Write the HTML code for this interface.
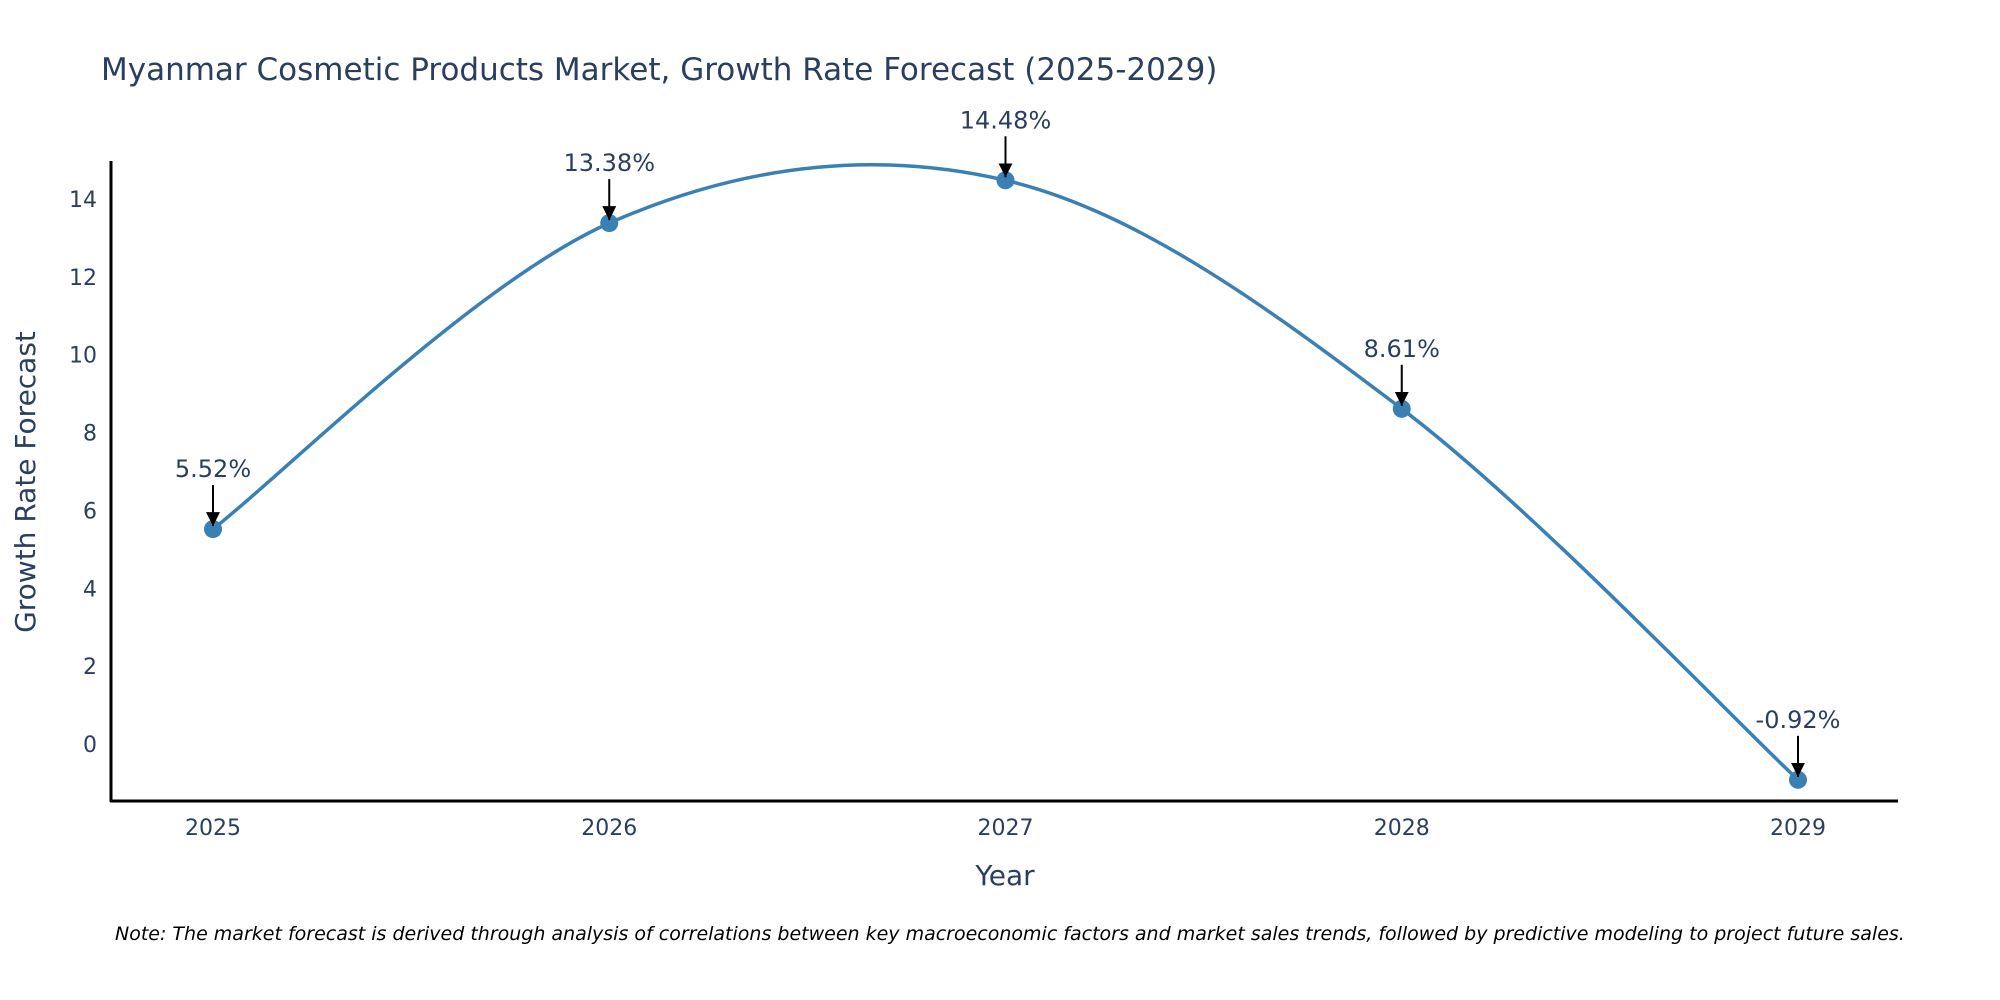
<!DOCTYPE html>
<html><head><meta charset="utf-8"><style>
body{margin:0;background:#fff}
svg{display:block;font-family:"DejaVu Sans","Liberation Sans",sans-serif}
</style></head><body>
<svg id="c" width="2000" height="1000" viewBox="0 0 2000 1000">
<defs>
<marker id="ah2" viewBox="0 0 10 10" refX="10" refY="5" markerWidth="14" markerHeight="16" markerUnits="userSpaceOnUse" orient="auto"><path d="M0,0 L10,5 L0,10 Z" fill="#000"/></marker></defs>
<text x="101" y="80" font-size="31" fill="#2a3f5f">Myanmar Cosmetic Products Market, Growth Rate Forecast (2025-2029)</text>
<g id="yt"></g><g id="xt"></g><g id="plot"></g><g id="ann"></g>
<line x1="111" y1="161" x2="111" y2="802" stroke="#000" stroke-width="3"/>
<line x1="110" y1="801" x2="1898" y2="801" stroke="#000" stroke-width="3"/>
<text transform="translate(35,482) rotate(-90)" text-anchor="middle" font-size="28" fill="#2a3f5f">Growth Rate Forecast</text>
<text x="1005" y="885" text-anchor="middle" font-size="28" fill="#2a3f5f">Year</text>
<text x="115" y="940" font-size="19" font-style="italic" fill="#000">Note: The market forecast is derived through analysis of correlations between key macroeconomic factors and market sales trends, followed by predictive modeling to project future sales.</text>
</svg>
<script>
const years=[2025,2026,2027,2028,2029];
const values=[5.52,13.38,14.48,8.61,-0.92];
const labels=["5.52%","13.38%","14.48%","8.61%","-0.92%"];
const yTicks=[0,2,4,6,8,10,12,14];
const NS="http://www.w3.org/2000/svg";
function X(v){return 213+(v-2025)*396.25;}
function Y(v){return 744-v*38.93;}
function mk(t,a,p){const e=document.createElementNS(NS,t);for(const k in a)e.setAttribute(k,a[k]);p.appendChild(e);return e;}
const yt=document.getElementById('yt');
yTicks.forEach(t=>{const e=mk('text',{x:97,y:Y(t)+8,'text-anchor':'end','font-size':22,fill:'#2a3f5f'},yt);


e.textContent=t;});
const xt=document.getElementById('xt');
years.forEach(t=>{const e=mk('text',{x:X(t),y:835,'text-anchor':'middle','font-size':22,fill:'#2a3f5f'},xt);


e.textContent=t;});
const pts=years.map((y,i)=>[X(y),Y(values[i])]);
let d="M"+pts[0][0]+","+pts[0][1];
const s=1/6;
for(let i=0;i<pts.length-1;i++){
const p0=pts[Math.max(0,i-1)],p1=pts[i],p2=pts[i+1],p3=pts[Math.min(pts.length-1,i+2)];
const c1=[p1[0]+(p2[0]-p0[0])*s,p1[1]+(p2[1]-p0[1])*s];
const c2=[p2[0]-(p3[0]-p1[0])*s,p2[1]-(p3[1]-p1[1])*s];
d+=" C"+c1+" "+c2+" "+p2;}
const plot=document.getElementById('plot');
const ln=mk('path',{d:d,fill:'none',stroke:'#3a80b4','stroke-width':3.5},plot);


const ann=document.getElementById('ann');
pts.forEach((p,i)=>{
const c=mk('circle',{cx:p[0],cy:p[1],r:9,fill:'#3a80b4'},plot);


const a=mk('line',{x1:p[0],y1:p[1]-44,x2:p[0],y2:p[1]-3,stroke:'#000','stroke-width':2,'marker-end':'url(#ah2)'},ann);


const t=mk('text',{x:p[0],y:p[1]-52,'text-anchor':'middle','font-size':24,fill:'#2a3f5f'},ann);


t.textContent=labels[i];});
</script>
</body></html>
